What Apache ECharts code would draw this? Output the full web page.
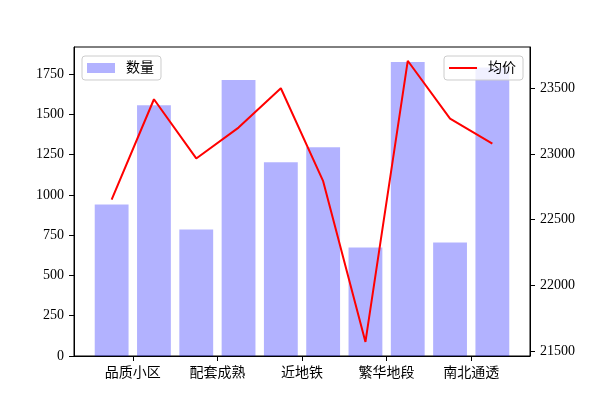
<!DOCTYPE html>
<html>
<head>
<meta charset="utf-8">
<script src="https://cdn.jsdelivr.net/npm/echarts@6/dist/echarts.min.js"></script>
<style>
  html, body { margin: 0; padding: 0; background: #fff; }
  #chart { width: 589px; height: 400px; }
</style>
</head>
<body>
<div id="chart"></div>
<script>
// 标签 (每两根柱子一个标签)
const categories = ['品质小区', '配套成熟', '近地铁', '繁华地段', '南北通透']
// 数量 (左轴)
const counts = [940, 1557, 785, 1713, 1202, 1295, 673, 1825, 704, 1790]
// 均价 (右轴)
const prices = [22654, 23418, 22967, 23202, 23502, 22794, 21569, 23711, 23271, 23080]
// 刻度
const leftTicks = [0, 250, 500, 750, 1000, 1250, 1500, 1750]
const rightTicks = [21500, 22000, 22500, 23000, 23500]

const fontFamily = '"Liberation Serif", "Noto Sans CJK SC", serif'

const xPos = counts.map((v, i) => i)
const labelPos = categories.map((c, i) => i * 2 + 0.5)

const chartInstance = echarts.init(document.getElementById('chart'), null, { renderer: 'canvas' })

const legendBox = {
  top: 56,
  orient: 'horizontal',
  itemWidth: 28,
  padding: [5, 7, 5, 5],
  backgroundColor: 'rgba(255,255,255,0.8)',
  borderColor: '#ccc',
  borderWidth: 1,
  borderRadius: 3,
  textStyle: { color: '#000', fontSize: 14, fontFamily: fontFamily, padding: [0, 0, 0, 6] },
}

const option = {
  animation: false,
  textStyle: { fontFamily: fontFamily },
  grid: {
    left: 74,
    right: 59,
    top: 47,
    bottom: 44,
    show: true,
    borderColor: '#000',
    borderWidth: 1,
    backgroundColor: 'transparent',
  },
  legend: [
    Object.assign({}, legendBox, {
      data: [{ name: '数量', icon: 'rect' }],
      left: 82,
      itemHeight: 10,
    }),
    Object.assign({}, legendBox, {
      data: [{ name: '均价', icon: 'rect', itemStyle: { color: '#ff0000' } }],
      right: 66,
      itemHeight: 2,
    }),
  ],
  xAxis: {
    type: 'value',
    min: -0.89,
    max: 9.89,
    splitLine: { show: false },
    axisLine: { show: true, onZero: false, lineStyle: { color: '#000', width: 1 } },
    axisTick: {
      show: true,
      length: 5,
      inside: false,
      lineStyle: { color: '#000' },
      customValues: labelPos,
    },
    axisLabel: {
      color: '#000',
      fontSize: 14,
      margin: 10,
      customValues: labelPos,
      formatter: (v) => categories[Math.round((v - 0.5) / 2)] || '',
    },
  },
  yAxis: [
    {
      type: 'value',
      min: 0,
      max: 1918,
      splitLine: { show: false },
      axisLine: { show: true, onZero: false, lineStyle: { color: '#000', width: 1 } },
      axisTick: { show: true, length: 5, lineStyle: { color: '#000' }, customValues: leftTicks },
      axisLabel: {
        color: '#000',
        fontSize: 14,
        margin: 10,
        customValues: leftTicks,
        formatter: (v) => String(v),
      },
    },
    {
      type: 'value',
      min: 21462,
      max: 23816,
      position: 'right',
      splitLine: { show: false },
      axisLine: { show: true, onZero: false, lineStyle: { color: '#000', width: 1 } },
      axisTick: { show: true, length: 5, lineStyle: { color: '#000' }, customValues: rightTicks },
      axisLabel: {
        color: '#000',
        fontSize: 14,
        margin: 10,
        customValues: rightTicks,
        formatter: (v) => String(v),
      },
    },
  ],
  series: [
    {
      name: '数量',
      type: 'bar',
      yAxisIndex: 0,
      barWidth: '80%',
      itemStyle: { color: 'rgba(0,0,255,0.3)' },
      data: xPos.map((x, i) => [x, counts[i]]),
    },
    {
      name: '均价',
      type: 'line',
      yAxisIndex: 1,
      symbol: 'none',
      lineStyle: { color: '#ff0000', width: 2 },
      itemStyle: { color: '#ff0000' },
      data: xPos.map((x, i) => [x, prices[i]]),
      z: 3,
    },
  ],
}

chartInstance.setOption(option)
</script>
</body>
</html>
